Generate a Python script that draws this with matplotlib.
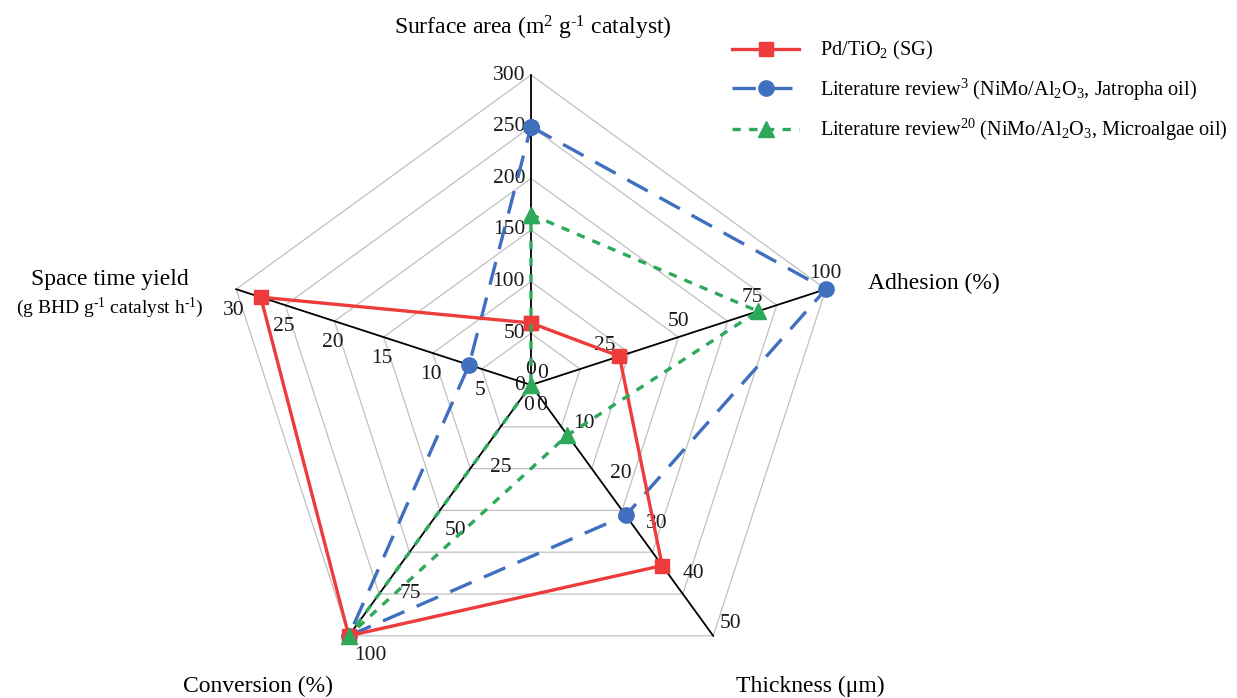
import numpy as np
import matplotlib
matplotlib.use("Agg")
import matplotlib.pyplot as plt

plt.rcParams['font.family'] = 'Liberation Serif'
plt.rcParams['mathtext.fontset'] = 'custom'
plt.rcParams['mathtext.rm'] = 'Liberation Serif'
plt.rcParams['mathtext.it'] = 'Liberation Serif:italic'

# spokes, clockwise from the top
axis_max = [300, 100, 50, 100, 30]
axis_ticks = [
    [0, 50, 100, 150, 200, 250, 300],
    [0, 25, 50, 75, 100],
    [0, 10, 20, 30, 40, 50],
    [0, 25, 50, 75, 100],
    [0, 5, 10, 15, 20, 25, 30],
]

pd_tio2 = [60, 30, 36, 100, 27.5]
lit_jatropha = [250, 100, 26, 100, 6.3]
lit_microalgae = [165, 77, 10, 100, 0]

series_labels = [
    "Pd/TiO$_2$ (SG)",
    "Literature review$^3$ (NiMo/Al$_2$O$_3$, Jatropha oil)",
    "Literature review$^{20}$ (NiMo/Al$_2$O$_3$, Microalgae oil)",
]

W, H = 1237, 698
cx, cy, R = 531, 385, 310

fig = plt.figure(figsize=(W / 100, H / 100), dpi=100)
ax = fig.add_axes([0, 0, 1, 1])
ax.set_xlim(-cx / R, (W - cx) / R)
ax.set_ylim(-(H - cy) / R, cy / R)
ax.axis('off')

n = len(axis_max)
ang = np.pi / 2 - np.arange(n) * 2 * np.pi / n
ux, uy = np.cos(ang), np.sin(ang)


def to_xy(vals):
    r = np.array(vals, dtype=float) / np.array(axis_max)
    x = r * ux
    y = r * uy
    return np.append(x, x[0]), np.append(y, y[0])


# pentagon grid rings
for k in range(1, 7):
    f = k / 6
    ax.plot(np.append(f * ux, f * ux[0]), np.append(f * uy, f * uy[0]),
            color='#c0c0c0', lw=0.9, zorder=1)

# spokes
for i in range(n):
    ax.plot([0, ux[i]], [0, uy[i]], color='black', lw=1.3, zorder=2)

# tick labels: pixel offset and alignment per spoke
tick_off = [(-6, 0, 'right', 'center'),
            (0, 16, 'center', 'center'),
            (6, 12, 'left', 'center'),
            (5, -20, 'left', 'center'),
            (-2, -21, 'center', 'center')]
for i in range(n):
    dx, dy, ha, va = tick_off[i]
    for t in axis_ticks[i]:
        f = t / axis_max[i]
        ax.annotate(str(t), (f * ux[i], f * uy[i]), xytext=(dx, dy),
                    textcoords='offset pixels', ha=ha, va=va,
                    fontsize=15.5, color='#1a1a1a', zorder=3)

red = '#ee3b3b'
blue = '#3f6fbe'
green = '#2ea85a'

xs, ys = to_xy(pd_tio2)
h1, = ax.plot(xs, ys, color=red, lw=2.4, marker='s', markersize=10,
              zorder=5)
xs, ys = to_xy(lit_jatropha)
h2, = ax.plot(xs, ys, color=blue, lw=2.4, dashes=(7, 4), marker='o',
              markersize=11, zorder=4)
xs, ys = to_xy(lit_microalgae)
h3, = ax.plot(xs, ys, color=green, lw=2.4, dashes=(2.5, 2.5), marker='^',
              markersize=11, zorder=6)

# axis titles
fs = 17
fig.text(533 / W, 1 - 28 / H, r"Surface area (m$^2$ g$^{\text{-}1}$ catalyst)",
         ha='center', va='center', fontsize=fs)
fig.text(868 / W, 1 - 283 / H, "Adhesion (%)", ha='left', va='center',
         fontsize=fs)
fig.text(810 / W, 1 - 686 / H, "Thickness (\u03bcm)", ha='center',
         va='center', fontsize=fs)
fig.text(258 / W, 1 - 686 / H, "Conversion (%)", ha='center', va='center',
         fontsize=fs)
fig.text(110 / W, 1 - 279 / H, "Space time yield", ha='center',
         va='center', fontsize=fs)
fig.text(110 / W, 1 - 308 / H,
         r"(g BHD g$^{\text{-}1}$ catalyst h$^{\text{-}1}$)", ha='center',
         va='center', fontsize=14)

ax.legend([h1, h2, h3], series_labels, loc='upper left',
          bbox_to_anchor=(724 / W, 1 - 31 / H), bbox_transform=fig.transFigure,
          frameon=False, fontsize=14.6, handlelength=3.3, labelspacing=0.7,
          handletextpad=1.05, borderaxespad=0)

fig.savefig('out.png', dpi=100)
